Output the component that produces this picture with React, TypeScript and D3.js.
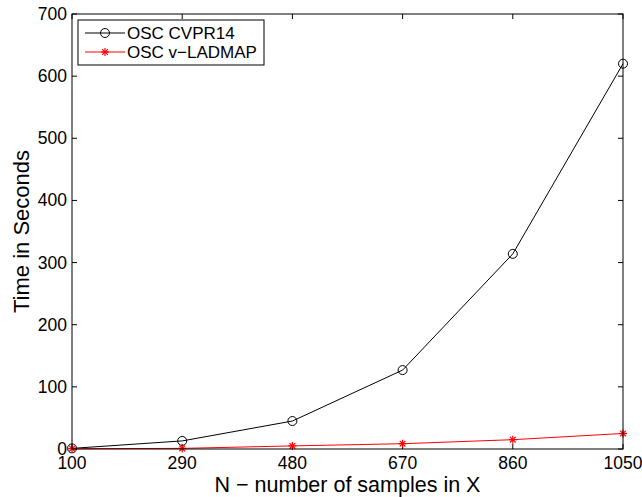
import { useEffect, useRef } from "react";
import * as d3 from "d3";

const samples = [100, 290, 480, 670, 860, 1050];
const cvpr14 = [1, 13, 45, 127, 314, 620];
const ladmap = [0.5, 1, 5, 8.5, 15, 25];
const yTicks = [0, 100, 200, 300, 400, 500, 600, 700];
const seriesNames = ["OSC CVPR14", "OSC v\u2212LADMAP"];

const App = () => {
  const ref = useRef<SVGSVGElement>(null);

  useEffect(() => {
    const w = 642;
    const h = 497;
    const left = 72, right = 623, top = 14, bottom = 449;
    const font = "'Liberation Sans', Arial, Helvetica, sans-serif";

    const svg = d3.select(ref.current).attr("width", w).attr("height", h);
    svg.selectAll("*").remove();
    svg.append("rect").attr("width", w).attr("height", h).attr("fill", "#fff");

    const x = d3.scaleLinear().domain([100, 1050]).range([left, right]);
    const y = d3.scaleLinear().domain([0, 700]).range([bottom, top]);

    // inward ticks on all four sides, matlab box style
    const tk = 5;
    const g = svg.append("g").attr("stroke", "#000").attr("stroke-width", 1);
    samples.forEach((v) => {
      g.append("line").attr("x1", x(v)).attr("x2", x(v)).attr("y1", bottom).attr("y2", bottom - tk);
      g.append("line").attr("x1", x(v)).attr("x2", x(v)).attr("y1", top).attr("y2", top + tk);
    });
    yTicks.forEach((v) => {
      g.append("line").attr("x1", left).attr("x2", left + tk).attr("y1", y(v)).attr("y2", y(v));
      g.append("line").attr("x1", right).attr("x2", right - tk).attr("y1", y(v)).attr("y2", y(v));
    });

    svg.append("g")
      .selectAll("text")
      .data(samples)
      .join("text")
      .attr("x", (d) => x(d))
      .attr("y", 469)
      .attr("text-anchor", "middle")
      .attr("font-family", font)
      .attr("font-size", 17.5)
      .text((d) => d);

    svg.append("g")
      .selectAll("text")
      .data(yTicks)
      .join("text")
      .attr("x", left - 5)
      .attr("y", (d) => y(d) + 6)
      .attr("text-anchor", "end")
      .attr("font-family", font)
      .attr("font-size", 17.5)
      .text((d) => d);

    const line = d3.line<number>().x((_, i) => x(samples[i])).y((d) => y(d));

    svg.append("path").datum(cvpr14).attr("d", line).attr("fill", "none").attr("stroke", "#000").attr("stroke-width", 1);
    svg.append("path").datum(ladmap).attr("d", line).attr("fill", "none").attr("stroke", "#ff0000").attr("stroke-width", 1);

    const circle = (sel: any, cx: number, cy: number) =>
      sel.append("circle").attr("cx", cx).attr("cy", cy).attr("r", 4.5)
        .attr("fill", "none").attr("stroke", "#000").attr("stroke-width", 1);

    const star = (sel: any, cx: number, cy: number) => {
      const r = 4;
      const gg = sel.append("g").attr("stroke", "#ff0000").attr("stroke-width", 1.2);
      [0, 45, 90, 135].forEach((a) => {
        const rad = (a * Math.PI) / 180;
        gg.append("line")
          .attr("x1", cx - r * Math.cos(rad)).attr("y1", cy - r * Math.sin(rad))
          .attr("x2", cx + r * Math.cos(rad)).attr("y2", cy + r * Math.sin(rad));
      });
    };

    cvpr14.forEach((d, i) => circle(svg, x(samples[i]), y(d)));
    ladmap.forEach((d, i) => star(svg, x(samples[i]), y(d)));

    // axes box
    svg.append("rect")
      .attr("x", left).attr("y", top)
      .attr("width", right - left).attr("height", bottom - top)
      .attr("fill", "none").attr("stroke", "#000").attr("stroke-width", 1);

    // legend
    const lg = svg.append("g");
    lg.append("rect").attr("x", 78).attr("y", 20).attr("width", 186).attr("height", 45)
      .attr("fill", "#fff").attr("stroke", "#000").attr("stroke-width", 1);
    const rows = [33, 52];
    lg.append("line").attr("x1", 85).attr("x2", 125).attr("y1", rows[0]).attr("y2", rows[0]).attr("stroke", "#000");
    circle(lg, 105, rows[0]);
    lg.append("line").attr("x1", 85).attr("x2", 125).attr("y1", rows[1]).attr("y2", rows[1]).attr("stroke", "#ff0000");
    star(lg, 105, rows[1]);
    seriesNames.forEach((name, i) => {
      lg.append("text").attr("x", 127).attr("y", rows[i] + 6)
        .attr("font-family", font).attr("font-size", 17).text(name);
    });

    svg.append("text")
      .attr("x", (left + right) / 2).attr("y", 492)
      .attr("text-anchor", "middle")
      .attr("font-family", font).attr("font-size", 21.5)
      .text("N \u2212 number of samples in X");

    svg.append("text")
      .attr("transform", `translate(29,${(top + bottom) / 2}) rotate(-90)`)
      .attr("text-anchor", "middle")
      .attr("font-family", font).attr("font-size", 22)
      .text("Time in Seconds");
  }, []);

  return (
    <div style={{ position: "absolute", left: 0, top: 0 }}>
      <svg ref={ref} style={{ display: "block" }}></svg>
    </div>
  );
};

export default App;
